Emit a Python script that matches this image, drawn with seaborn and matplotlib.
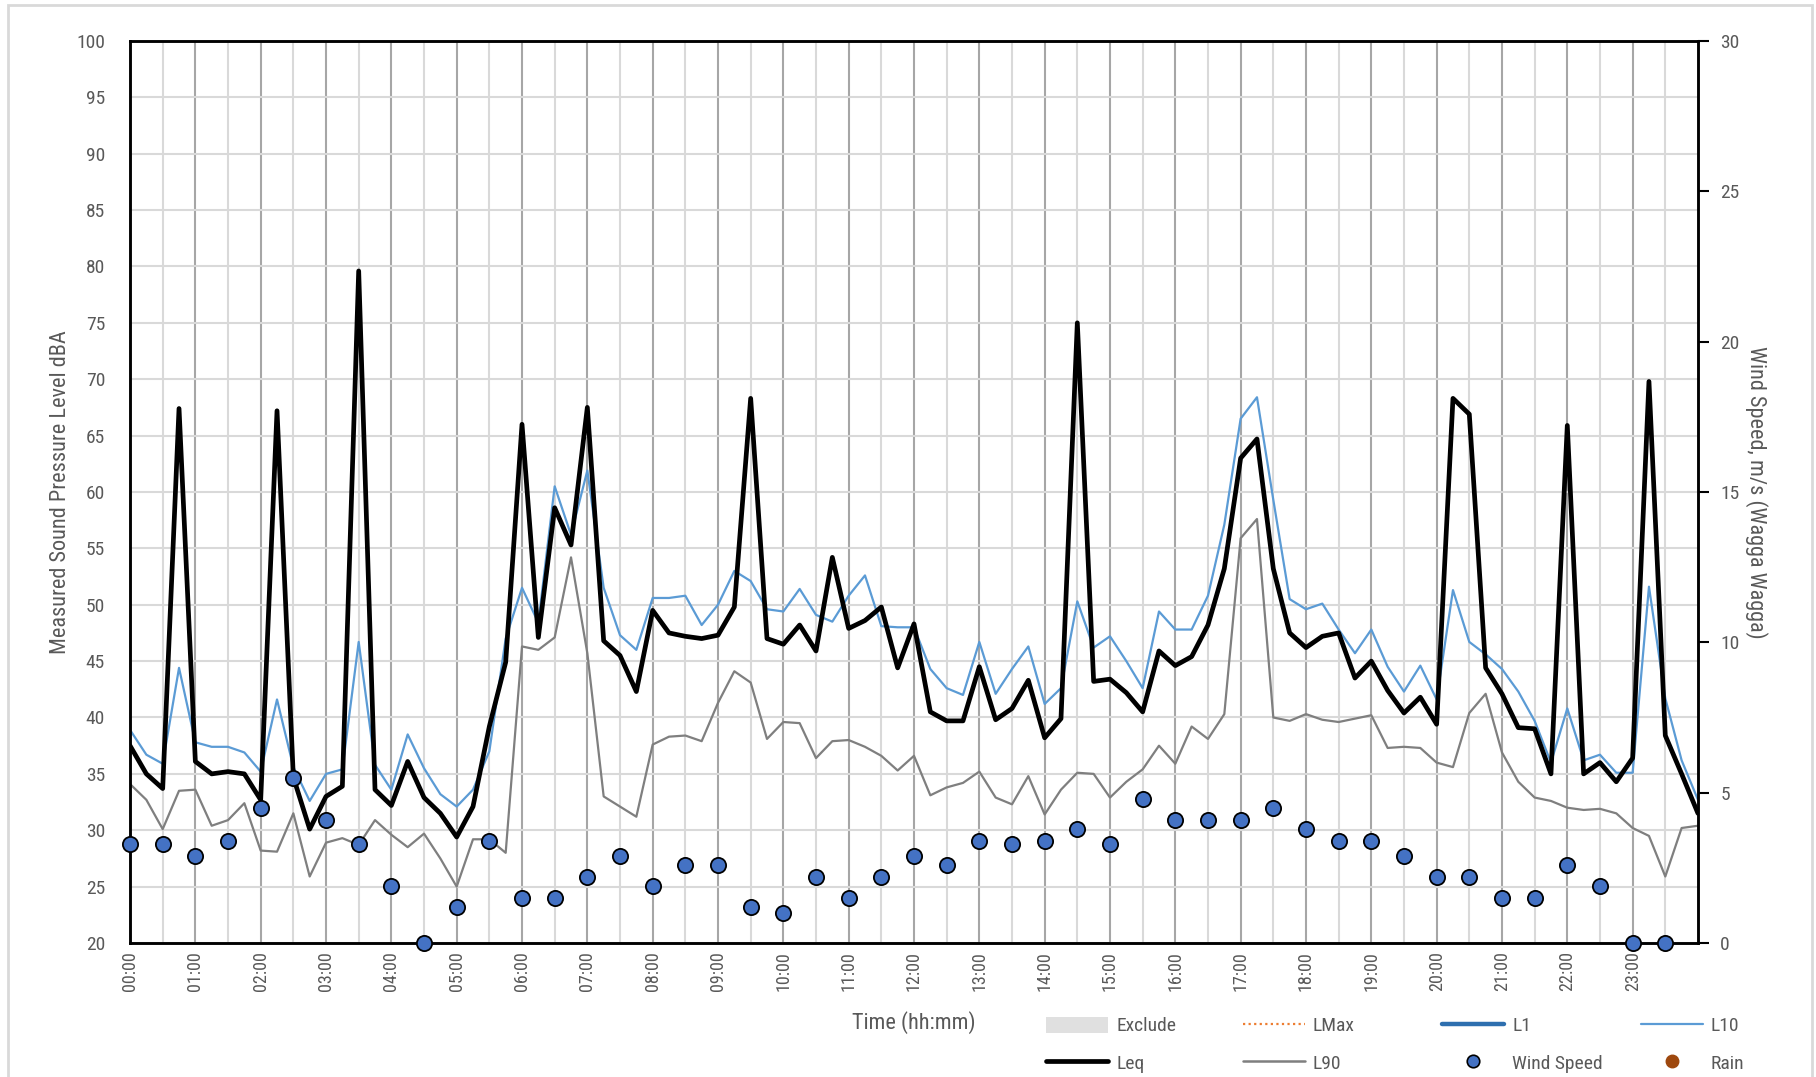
import matplotlib
matplotlib.use("Agg")
import matplotlib.font_manager as fm
import matplotlib.pyplot as plt
import numpy as np
import seaborn as sns
from matplotlib.lines import Line2D
from matplotlib.patches import Patch, Rectangle

# 15-minute samples, 00:00 .. 24:00
time_hours = np.arange(97) * 0.25
# wind is half-hourly, 00:00 .. 23:30
wind_hours = np.arange(48) * 0.5

leq = [
    37.5, 35.0, 33.7, 67.4,  36.1, 35.0, 35.2, 35.0,
    32.7, 67.2, 34.7, 30.1,  33.0, 33.9, 79.6, 33.6,
    32.2, 36.1, 32.9, 31.5,  29.4, 32.1, 39.2, 44.9,
    66.0, 47.1, 58.6, 55.3,  67.5, 46.8, 45.5, 42.3,
    49.5, 47.5, 47.2, 47.0,  47.3, 49.8, 68.3, 47.0,
    46.5, 48.2, 45.9, 54.2,  47.9, 48.6, 49.8, 44.4,
    48.3, 40.5, 39.7, 39.7,  44.5, 39.8, 40.8, 43.3,
    38.2, 39.9, 75.0, 43.2,  43.4, 42.2, 40.5, 45.9,
    44.6, 45.4, 48.2, 53.2,  63.0, 64.7, 53.2, 47.5,
    46.2, 47.2, 47.5, 43.5,  45.0, 42.4, 40.4, 41.8,
    39.4, 68.3, 66.9, 44.4,  42.1, 39.1, 39.0, 35.0,
    65.9, 35.0, 36.0, 34.3,  36.4, 69.8, 38.4, 35.0,
    31.5,
]

l10 = [
    38.9, 36.7, 35.9, 44.4,  37.8, 37.4, 37.4, 36.9,
    35.2, 41.6, 35.6, 32.6,  35.0, 35.4, 46.7, 35.8,
    33.6, 38.5, 35.5, 33.2,  32.1, 33.6, 37.0, 47.0,
    51.5, 48.4, 60.5, 56.2,  61.9, 51.5, 47.3, 46.0,
    50.6, 50.6, 50.8, 48.2,  50.0, 53.0, 52.1, 49.6,
    49.4, 51.4, 49.1, 48.5,  50.8, 52.6, 48.1, 48.0,
    48.0, 44.3, 42.6, 42.0,  46.7, 42.1, 44.3, 46.3,
    41.2, 42.6, 50.3, 46.2,  47.2, 45.0, 42.6, 49.4,
    47.8, 47.8, 50.8, 57.1,  66.5, 68.4, 59.3, 50.5,
    49.6, 50.1, 47.8, 45.7,  47.8, 44.5, 42.3, 44.6,
    41.6, 51.3, 46.7, 45.6,  44.3, 42.3, 39.7, 36.0,
    40.8, 36.2, 36.7, 35.1,  35.1, 51.6, 41.7, 36.2,
    32.7,
]

l90 = [
    34.1, 32.7, 30.1, 33.5,  33.6, 30.4, 30.9, 32.4,
    28.2, 28.1, 31.5, 25.9,  28.9, 29.3, 28.7, 30.9,
    29.6, 28.5, 29.7, 27.5,  25.0, 29.2, 29.2, 28.0,
    46.3, 46.0, 47.1, 54.2,  45.7, 33.0, 32.1, 31.2,
    37.6, 38.3, 38.4, 37.9,  41.3, 44.1, 43.1, 38.1,
    39.6, 39.5, 36.4, 37.9,  38.0, 37.4, 36.6, 35.3,
    36.6, 33.1, 33.8, 34.2,  35.2, 32.9, 32.3, 34.8,
    31.4, 33.6, 35.1, 35.0,  32.9, 34.3, 35.4, 37.5,
    35.9, 39.2, 38.1, 40.3,  55.9, 57.6, 40.0, 39.7,
    40.3, 39.8, 39.6, 39.9,  40.2, 37.3, 37.4, 37.3,
    36.0, 35.6, 40.4, 42.1,  36.9, 34.3, 32.9, 32.6,
    32.0, 31.8, 31.9, 31.5,  30.2, 29.5, 25.9, 30.2,
    30.4,
]

wind_speed = [
    3.3, 3.3, 2.9, 3.4, 4.5, 5.5, 4.1, 3.3,
    1.9, 0.0, 1.2, 3.4, 1.5, 1.5, 2.2, 2.9,
    1.9, 2.6, 2.6, 1.2, 1.0, 2.2, 1.5, 2.2,
    2.9, 2.6, 3.4, 3.3, 3.4, 3.8, 3.3, 4.8,
    4.1, 4.1, 4.1, 4.5, 3.8, 3.4, 3.4, 2.9,
    2.2, 2.2, 1.5, 1.5, 2.6, 1.9, 0.0, 0.0,
]

hour_labels = [f"{h:02d}:00" for h in range(24)]

# pick a narrow-ish font if one is around
available = {f.name for f in fm.fontManager.ttflist}
FONT = "DejaVu Sans"
for fam in ["Liberation Sans Narrow", "DejaVu Sans Condensed", "Roboto Condensed", "Liberation Sans"]:
    if fam in available:
        FONT = fam
        break

sns.set_style("white")
plt.rcParams["font.family"] = [FONT, "DejaVu Sans"]

TEXT = "#595959"

fig = plt.figure(figsize=(18.16, 10.77), dpi=100)
ax = fig.add_axes([0.0716, 0.1244, 0.8634, 0.8376])
ax2 = ax.twinx()

sns.lineplot(x=time_hours, y=l90, ax=ax, color="#7F7F7F", lw=1.6)
sns.lineplot(x=time_hours, y=l10, ax=ax, color="#5B9BD5", lw=1.6)
sns.lineplot(x=time_hours, y=leq, ax=ax, color="black", lw=3.4)
sns.scatterplot(x=wind_hours, y=wind_speed, ax=ax2, color="#4472C4",
                edgecolor="black", linewidth=1.3, s=120, zorder=5, clip_on=False)

ax.set_xlim(0, 24)
ax.set_ylim(20, 100)
ax2.set_ylim(0, 30)

ax.set_yticks(range(20, 101, 5))
ax2.set_yticks(range(0, 31, 5))
ax.set_xticks(range(24))
ax.set_xticklabels(hour_labels, rotation=90)
ax.set_xticks(np.arange(0.5, 24, 1), minor=True)

ax.set_axisbelow(True)
ax.grid(axis="y", color="#D9D9D9", lw=1.5)
ax.grid(axis="x", which="major", color="#A6A6A6", lw=1.5)
ax.grid(axis="x", which="minor", color="#D9D9D9", lw=1.5)

ax.tick_params(axis="x", which="both", length=0, pad=6, labelsize=13, labelcolor=TEXT)
ax.tick_params(axis="y", length=0, pad=18, labelsize=14, labelcolor=TEXT)
ax2.tick_params(axis="y", length=8, width=1.5, color="black", pad=8,
                labelsize=14, labelcolor=TEXT)

for a in (ax, ax2):
    for side in ("left", "right", "top", "bottom"):
        a.spines[side].set_visible(True)
        a.spines[side].set_color("black")
        a.spines[side].set_linewidth(1.8)

ax.set_xlabel("Time (hh:mm)", fontsize=16, color=TEXT)
ax.xaxis.set_label_coords(0.5, -0.088)
ax.xaxis.label.set_va("center")
ax.set_ylabel("Measured Sound Pressure Level dBA", fontsize=16, color=TEXT)
ax.yaxis.set_label_coords(-0.0446, 0.5)
ax.yaxis.label.set_va("center")
ax2.set_ylabel("Wind Speed, m/s (Wagga Wagga)", fontsize=16, color=TEXT, rotation=270)
ax2.yaxis.set_label_coords(1.0376, 0.5)
ax2.yaxis.label.set_va("center")

# legend: four columns of two rows, each column placed on its own
h_exclude = Patch(facecolor="#E0E0E0", edgecolor="none")
h_lmax = Line2D([], [], color="#ED7D31", lw=1.6, ls=(0, (1, 1.5)))
h_l1 = Line2D([], [], color="#2E6FAF", lw=3.2)
h_l10 = Line2D([], [], color="#5B9BD5", lw=1.6)
h_leq = Line2D([], [], color="black", lw=3.4)
h_l90 = Line2D([], [], color="#7F7F7F", lw=1.8)
h_wind = Line2D([], [], ls="none", marker="o", markersize=9, markerfacecolor="#4472C4",
                markeredgecolor="black", markeredgewidth=1.2)
h_rain = Line2D([], [], ls="none", marker="o", markersize=9, markerfacecolor="#9E480E",
                markeredgecolor="#9E480E")

legend_cols = [
    ([h_exclude, h_leq], ["Exclude", "Leq"]),
    ([h_lmax, h_l90], ["LMax", "L90"]),
    ([h_l1, h_wind], ["L1", "Wind Speed"]),
    ([h_l10, h_rain], ["L10", "Rain"]),
]
col_left_px = [1046, 1243, 1442, 1641]
for (hs, ls), x_px in zip(legend_cols, col_left_px):
    leg = fig.legend(hs, ls, loc="upper left", bbox_to_anchor=(x_px / 1816, 0.0560),
                     frameon=False, fontsize=14, borderpad=0, borderaxespad=0,
                     handlelength=3.2, handleheight=0.9, handletextpad=0.4,
                     labelspacing=0.95)
    for t in leg.get_texts():
        t.set_color(TEXT)

# light outer frame of the chart area
fig.patches.append(Rectangle((8 / 1816, -0.02), (1812 - 8) / 1816, 0.9954 + 0.02,
                             transform=fig.transFigure, fill=False,
                             edgecolor="#D9D9D9", lw=2))

fig.savefig("out.png", dpi=100)
